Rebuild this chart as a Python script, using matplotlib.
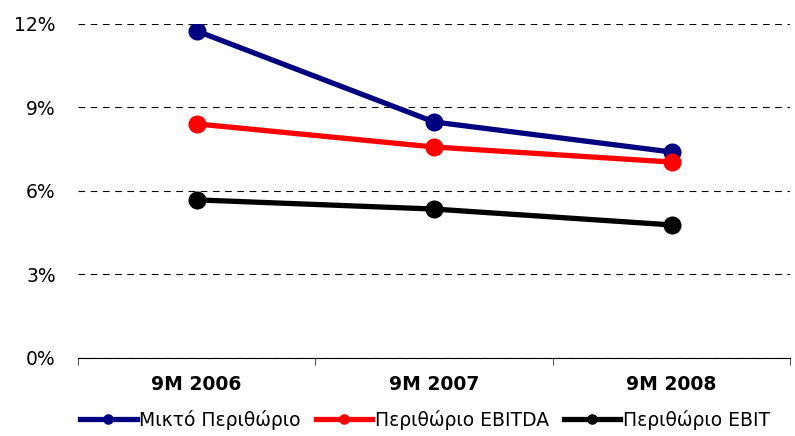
import matplotlib.pyplot as plt
import numpy as np

categories = ["9M 2006", "9M 2007", "9M 2008"]
mikto = [11.75, 8.48, 7.40]
ebitda = [8.41, 7.58, 7.04]
ebit = [5.68, 5.35, 4.78]
series_names = ["Μικτό Περιθώριο", "Περιθώριο EBITDA", "Περιθώριο EBIT"]
colors = ["#000080", "#FF0000", "#000000"]
yticks = [0, 3, 6, 9, 12]

fig = plt.figure(figsize=(7.95, 4.36), dpi=100)
ax = fig.add_axes([0.098, 0.179, 0.896, 0.766])

x = np.arange(len(categories))
for vals, name, c in zip([mikto, ebitda, ebit], series_names, colors):
    ax.plot(x, vals, color=c, lw=3.8, marker="o", ms=12, label=name, zorder=3)

ax.set_xlim(-0.5, 2.5)
ax.set_ylim(0, 12)
ax.set_yticks(yticks)
ax.set_yticklabels([f"{v}%" for v in yticks], fontsize=13.5)
ax.tick_params(axis="y", length=0, pad=16)
ax.yaxis.grid(True, ls=(0, (6, 5)), color="black", lw=0.8)

ax.set_xticks([-0.5, 0.5, 1.5, 2.5])
ax.set_xticklabels([])
ax.tick_params(axis="x", length=5, direction="out", color="#555555")
ax.set_xticks(x, minor=True)
ax.set_xticklabels(categories, minor=True, fontsize=13.5, fontweight="bold")
ax.tick_params(axis="x", which="minor", length=0, pad=12)

for s in ["top", "right", "left"]:
    ax.spines[s].set_visible(False)
ax.spines["bottom"].set_color("black")

fig.legend(loc="lower center", bbox_to_anchor=(0.535, -0.025), ncol=3, frameon=False,
           fontsize=13.5, handlelength=3.0, handletextpad=0.15, columnspacing=0.8,
           markerscale=0.55)

fig.savefig("out.png", dpi=100)
